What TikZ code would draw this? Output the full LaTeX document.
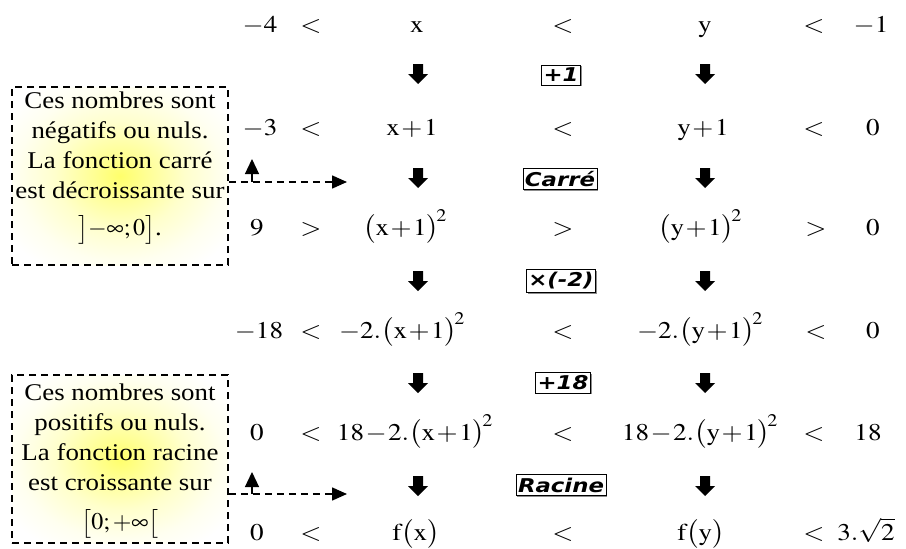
\documentclass[tikz,border=0pt]{standalone}
\usepackage{amsmath}
\usepackage{graphicx}
\usepackage{mathptmx}
\usepackage{fontspec}
\setmainfont{Liberation Serif}
\newfontfamily\notefont{Liberation Serif}[FakeStretch=1.12]
\newfontfamily\opfont{DejaVu Sans}
\newcommand\V[1]{\scalebox{1.13}[1]{$\medmuskip=1mu #1$}}
\newcommand\OP[1]{\scalebox{1.2}[1]{#1}}
\newcommand\sq{^{\kern-2.5pt 2}}
\usetikzlibrary{arrows.meta,shadows}
\pgfdeclareradialshading{glow}{\pgfpoint{0bp}{0bp}}{color(0bp)=(yellow!58); color(6bp)=(yellow!42); color(15bp)=(yellow!20); color(24bp)=(yellow!6); color(31bp)=(white); color(50bp)=(white)}
\begin{document}
\begin{tikzpicture}[x=1pt,y=-1pt,
  val/.style={inner sep=0pt, anchor=base, font=\fontsize{24}{28}\selectfont},
  opbox/.style={draw=black, line width=0.8pt, inner xsep=2pt, inner ysep=3pt,
    font=\fontsize{19}{21}\selectfont\opfont\bfseries\itshape, fill=white,
    drop shadow={shadow xshift=1.2pt, shadow yshift=-1.2pt, fill=black!45, opacity=1}},
  notebox/.style={draw=black, dash pattern=on 7pt off 5pt, line width=1.6pt,
    shading=glow, minimum width=216pt, inner sep=0pt},
  notetext/.style={align=center, inner sep=0pt, font=\notefont\fontsize{24}{30}\selectfont},
  dasharrow/.style={line width=1.6pt, dash pattern=on 7pt off 5pt, -{Triangle[length=15pt,width=13pt]}},
  uparrow/.style={line width=1.2pt, -{Triangle[length=15pt,width=14pt]}},
  pics/dnarrow/.style={code={\fill (-5,-10) -- (5,-10) -- (5,0) -- (10,0) -- (0,10) -- (-10,0) -- (-5,0) -- cycle;}}
]
\useasboundingbox (0,0) rectangle (906,549);

% note boxes
\node[notebox, minimum height=178pt] (b1) at (120,176) {};
\node[notetext] (t1) at (120,168) {Ces nombres sont\\ négatifs ou nuls.\\ La fonction carré\\ est décroissante sur\\[7pt] $\bigl]-\infty;0\bigr]$.};
\node[notebox, minimum height=168pt] (b2) at (120,459) {};
\node[notetext] (t2) at (120,461) {Ces nombres sont\\ positifs ou nuls.\\ La fonction racine\\ est croissante sur\\[9pt] $\bigl[0;+\infty\bigr[$};

% dashed connectors
\coordinate (e1) at (347,182);
\coordinate (u1) at (252,159);
\draw[dasharrow] (b1.east |- e1) -- (e1);
\draw[uparrow] (u1 |- e1) -- (u1);
\coordinate (e2) at (347,494);
\coordinate (u2) at (252,472);
\draw[dasharrow] (b2.east |- e2) -- (e2);
\draw[uparrow] (u2 |- e2) -- (u2);

% row 1
\node[val] (a1) at (260,32) {\V{-4}};
\node[val] (r1b) at (311,32) {\V{<}};
\node[val] (c1) at (417,32) {\V{\mathrm{x}}};
\node[val] (r1d) at (563,32) {\V{<}};
\node[val] (d1) at (705,32) {\V{\mathrm{y}}};
\node[val] (r1f) at (814,32) {\V{<}};
\node[val] (g1) at (871,32) {\V{-1}};
% row 2
\node[val] (a2) at (260,135) {\V{-3}};
\node[val] (r2b) at (311,135) {\V{<}};
\node[val] (c2) at (412,135) {\V{\mathrm{x}+1}};
\node[val] (r2d) at (563,135) {\V{<}};
\node[val] (d2) at (703,135) {\V{\mathrm{y}+1}};
\node[val] (r2f) at (814,135) {\V{<}};
\node[val] (g2) at (873,135) {\V{0}};
% row 3
\node[val] (a3) at (257,235) {\V{9}};
\node[val] (r3b) at (311,235) {\V{>}};
\node[val] (c3) at (405,235) {\V{\bigl(\mathrm{x}+1\bigr)\sq}};
\node[val] (r3d) at (563,235) {\V{>}};
\node[val] (d3) at (700,235) {\V{\bigl(\mathrm{y}+1\bigr)\sq}};
\node[val] (r3f) at (816,235) {\V{>}};
\node[val] (g3) at (873,235) {\V{0}};
% row 4
\node[val] (a4) at (259,338) {\V{-18}};
\node[val] (r4b) at (311,338) {\V{<}};
\node[val] (c4) at (402,338) {\V{-2.\bigl(\mathrm{x}+1\bigr)\sq}};
\node[val] (r4d) at (563,338) {\V{<}};
\node[val] (d4) at (700,338) {\V{-2.\bigl(\mathrm{y}+1\bigr)\sq}};
\node[val] (r4f) at (816,338) {\V{<}};
\node[val] (g4) at (873,338) {\V{0}};
% row 5
\node[val] (a5) at (257,440) {\V{0}};
\node[val] (r5b) at (311,440) {\V{<}};
\node[val] (c5) at (415,440) {\V{18-2.\bigl(\mathrm{x}+1\bigr)\sq}};
\node[val] (r5d) at (563,440) {\V{<}};
\node[val] (d5) at (700,440) {\V{18-2.\bigl(\mathrm{y}+1\bigr)\sq}};
\node[val] (r5f) at (814,440) {\V{<}};
\node[val] (g5) at (868,440) {\V{18}};
% row 6
\node[val] (a6) at (257,540) {\V{0}};
\node[val] (r6b) at (311,540) {\V{<}};
\node[val] (c6) at (416,540) {\V{\mathrm{f}\bigl(\mathrm{x}\bigr)}};
\node[val] (r6d) at (563,540) {\V{<}};
\node[val] (d6) at (701,540) {\V{\mathrm{f}\bigl(\mathrm{y}\bigr)}};
\node[val] (r6f) at (814,540) {\V{<}};
\node[val] (g6) at (866,540) {\V{3.\sqrt{2}}};

% operation labels
\node[opbox] (op1) at (561,75) {\OP{+1}};
\node[opbox] (op2) at (560,179) {\OP{Carré}};
\node[opbox] (op3) at (561,281) {\OP{×(-2)}};
\node[opbox] (op4) at (563,383) {\OP{+18}};
\node[opbox] (op5) at (561,485) {\OP{Racine}};

% down arrows
\foreach \yy in {74,178,281,383,486} {
  \pic at (418,\yy) {dnarrow};
  \pic at (705,\yy) {dnarrow};
}
\end{tikzpicture}
\end{document}
